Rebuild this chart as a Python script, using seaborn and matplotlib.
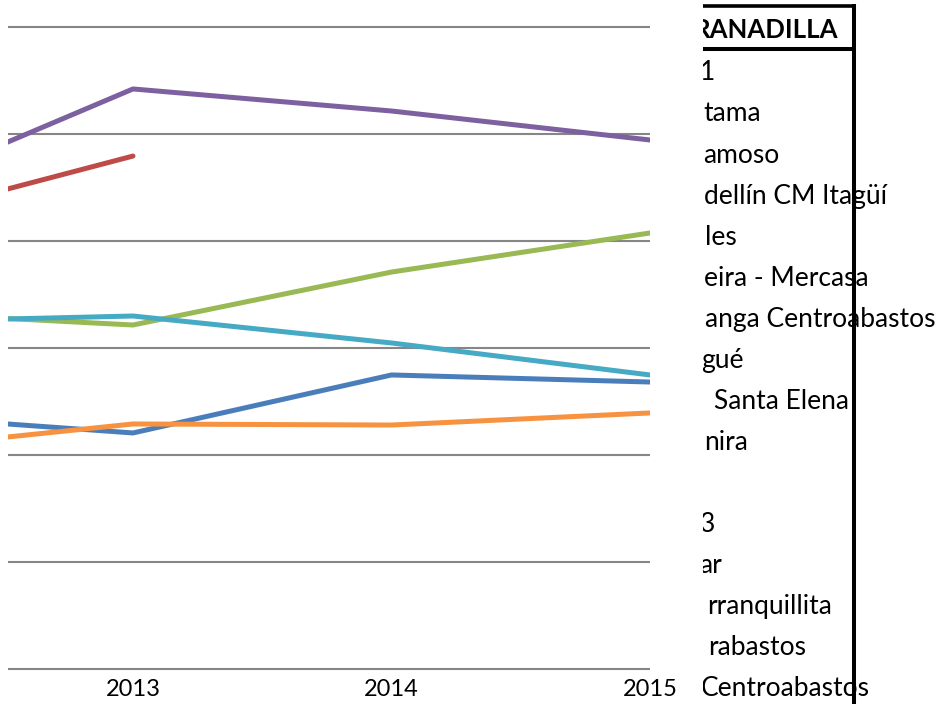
import numpy as np
import pandas as pd
import matplotlib
matplotlib.use("Agg")
import matplotlib.pyplot as plt
import seaborn as sns

# precios granadilla por mercado (ventana recortada del grafico original)
years = [2012, 2013, 2014, 2015]
blue_vals = [2379, 2206, 2748, 2682]
red_vals = [4159, 4794, np.nan, np.nan]
green_vals = [3340, 3215, 3710, 4075]
purple_vals = [4397, 5421, 5215, 4944]
cyan_vals = [3242, 3299, 3047, 2748]
orange_vals = [2039, 2290, 2280, 2393]

series = ["Serie 1", "Duitama", "Sogamoso", "Medellín CM Itagüí", "Manizales", "Pereira - Mercasa"]
colors = ["#4A7EBB", "#BE4B48", "#98B954", "#7D60A0", "#46AAC5", "#F69240"]

# only the visible (right) part of the legend survives in the picture
legend_title = "RANADILLA"
legend_labels = ["1", "tama", "amoso", "dellín CM Itagüí", "les", "eira - Mercasa",
                 "anga Centroabastos", "gué", "Santa Elena", "nira", "", "3", "ar",
                 "rranquillita", "rabastos", "Centroabastos"]
legend_left = [703, 703, 703, 703, 703, 703, 703, 703, 713, 703, 703, 703, 703, 703, 703, 703]
legend_right = [713, 762, 780, 887, 738, 870, 938, 742, 850, 750, 703, 712, 718, 837, 812, 868]

rows = []
for name, vals in zip(series, [blue_vals, red_vals, green_vals, purple_vals, cyan_vals, orange_vals]):
    for y, v in zip(years, vals):
        if not np.isnan(v):
            rows.append({"year": y, "value": v, "series": name})
df = pd.DataFrame(rows)

sns.set_theme(style="white")
plt.rcParams["font.family"] = ["Lato", "DejaVu Sans"]

W, H = 943, 704
fig = plt.figure(figsize=(W / 100, H / 100), dpi=100)

# plot area: y px 669 (0) .. 27 (6000), small margin so edge gridlines are not cut
px_per_unit = 107 / 1000
margin = 20
top_px = 27 - margin * px_per_unit
bot_px = 669 + margin * px_per_unit
ax = fig.add_axes([8 / W, (H - bot_px) / H, 642 / W, (bot_px - top_px) / H])

sns.lineplot(data=df, x="year", y="value", hue="series", hue_order=series,
             palette=colors, linewidth=3.6, legend=False, estimator=None, ax=ax)

ax.set_xlim(2012.5165, 2015)
ax.set_ylim(-margin, 6000 + margin)
ax.set_yticks(range(0, 7000, 1000))
ax.yaxis.grid(True, color="#868686", linewidth=1.5)
ax.xaxis.grid(False)
ax.set_axisbelow(True)
ax.set_xticks([2013, 2014, 2015])
ax.set_xticklabels(["2013", "2014", "2015"], fontsize=17, color="black")
ax.tick_params(axis="x", length=0, pad=5.3)
ax.tick_params(axis="y", left=False, labelleft=False)
ax.set_xlabel("")
ax.set_ylabel("")
for s in ax.spines.values():
    s.set_visible(False)

# legend region, left part hidden at x=703
lax = fig.add_axes([703 / W, 0, (W - 703) / W, 1])
lax.set_xlim(703, W)
lax.set_ylim(H, 0)
lax.axis("off")

lax.text(838, 37.5, legend_title, ha="right", va="baseline", fontsize=18.5,
         fontweight="bold", color="black", clip_on=True)
for i, (lab, xl, xr) in enumerate(zip(legend_labels, legend_left, legend_right)):
    if lab:
        lax.text((xl + xr) / 2, 80.4 + i * 41.07, lab, ha="center", va="baseline",
                 fontsize=19, color="black", clip_on=True)

lax.plot([695, 856], [5.5, 5.5], color="black", lw=2.6, solid_capstyle="butt", zorder=5)
lax.plot([695, 856], [49, 49], color="black", lw=2.9, solid_capstyle="butt", zorder=5)
lax.plot([854, 854], [4, H + 5], color="black", lw=2.9, solid_capstyle="butt", zorder=5)

fig.savefig("out.png", dpi=100)
